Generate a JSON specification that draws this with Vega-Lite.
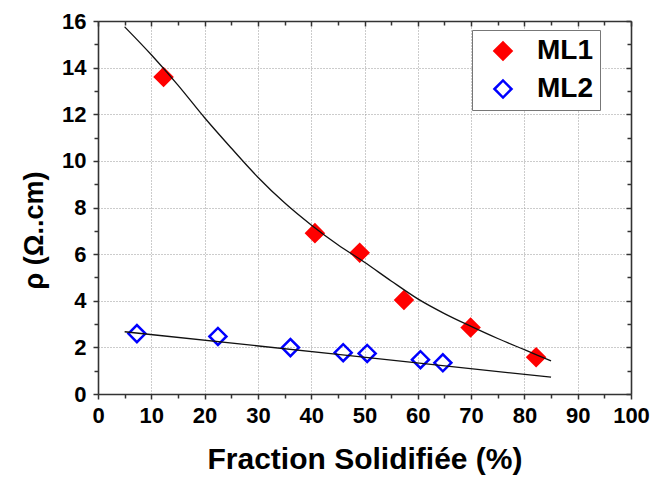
{
  "$schema": "https://vega.github.io/schema/vega-lite/v6.json",
  "width": 533,
  "height": 373,
  "autosize": {"type": "none"},
  "padding": {"left": 98, "top": 21, "right": 21, "bottom": 83},
  "background": "white",
  "config": {
    "view": {"stroke": null},
    "font": "Liberation Sans",
    "axis": {"labelFont": "Liberation Sans", "titleFont": "Liberation Sans"}
  },
  "datasets": {
    "pts": [
      {"frac": 12.3, "rho": 13.6, "serie": "ML1"},
      {"frac": 40.7, "rho": 6.9, "serie": "ML1"},
      {"frac": 49.1, "rho": 6.06, "serie": "ML1"},
      {"frac": 57.4, "rho": 4.03, "serie": "ML1"},
      {"frac": 69.9, "rho": 2.85, "serie": "ML1"},
      {"frac": 82.2, "rho": 1.58, "serie": "ML1"},
      {"frac": 7.3, "rho": 2.59, "serie": "ML2"},
      {"frac": 22.5, "rho": 2.47, "serie": "ML2"},
      {"frac": 36.1, "rho": 1.99, "serie": "ML2"},
      {"frac": 46.0, "rho": 1.77, "serie": "ML2"},
      {"frac": 50.5, "rho": 1.74, "serie": "ML2"},
      {"frac": 60.5, "rho": 1.47, "serie": "ML2"},
      {"frac": 64.7, "rho": 1.34, "serie": "ML2"}
    ],
    "fit": [
      {"frac": 5, "rho": 15.75, "serie": "ML1"},
      {"frac": 10, "rho": 14.55, "serie": "ML1"},
      {"frac": 15, "rho": 13.25, "serie": "ML1"},
      {"frac": 20, "rho": 11.85, "serie": "ML1"},
      {"frac": 25, "rho": 10.55, "serie": "ML1"},
      {"frac": 30, "rho": 9.3, "serie": "ML1"},
      {"frac": 35, "rho": 8.2, "serie": "ML1"},
      {"frac": 40, "rho": 7.25, "serie": "ML1"},
      {"frac": 45, "rho": 6.4, "serie": "ML1"},
      {"frac": 50, "rho": 5.65, "serie": "ML1"},
      {"frac": 55, "rho": 4.85, "serie": "ML1"},
      {"frac": 60, "rho": 4.08, "serie": "ML1"},
      {"frac": 65, "rho": 3.45, "serie": "ML1"},
      {"frac": 70, "rho": 2.9, "serie": "ML1"},
      {"frac": 75, "rho": 2.38, "serie": "ML1"},
      {"frac": 80, "rho": 1.9, "serie": "ML1"},
      {"frac": 85, "rho": 1.42, "serie": "ML1"},
      {"frac": 5, "rho": 2.67, "serie": "ML2"},
      {"frac": 45, "rho": 1.7, "serie": "ML2"},
      {"frac": 85, "rho": 0.72, "serie": "ML2"}
    ]
  },
  "layer": [
    {
      "data": {"name": "pts"},
      "mark": {"type": "point", "shape": "diamond", "size": 290, "strokeWidth": 2.5, "opacity": 1, "filled": false},
      "encoding": {
        "x": {
          "field": "frac", "type": "quantitative",
          "scale": {"domain": [0, 100], "nice": false},
          "axis": {
            "orient": "bottom",
            "title": "Fraction Solidifiée (%)",
            "titleFontSize": 30, "titleFontWeight": "bold", "titleColor": "black", "titlePadding": 18,
            "values": [0,5,10,15,20,25,30,35,40,45,50,55,60,65,70,75,80,85,90,95,100],
            "labelExpr": "datum.value % 10 === 0 ? datum.label : ''",
            "labelOverlap": false,
            "labelFontSize": 22, "labelFontWeight": "bold", "labelColor": "black", "labelPadding": 6,
            "labelFlush": false,
            "domainColor": "#333", "domainWidth": 1.6,
            "tickColor": "#333", "tickWidth": 1.5,
            "tickSize": {"condition": {"test": "datum.value % 10 !== 0", "value": 4}, "value": 5},
            "grid": true, "gridColor": "#999", "gridDash": [1, 2], "gridWidth": 1,
            "gridOpacity": {"condition": {"test": "datum.value % 10 !== 0 || datum.value === 0 || datum.value === 100", "value": 0}, "value": 1}
          }
        },
        "y": {
          "field": "rho", "type": "quantitative",
          "scale": {"domain": [0, 16], "nice": false},
          "axis": {
            "orient": "left",
            "title": "ρ (Ω..cm)",
            "titleFontSize": 27, "titleFontWeight": "bold", "titleColor": "black", "titlePadding": 13,
            "titleY": 209, "titleAnchor": null,
            "values": [0,1,2,3,4,5,6,7,8,9,10,11,12,13,14,15,16],
            "labelExpr": "datum.value % 2 === 0 ? datum.label : ''",
            "labelOverlap": false,
            "labelFontSize": 22, "labelFontWeight": "bold", "labelColor": "black", "labelPadding": 7,
            "labelFlush": false,
            "domainColor": "#333", "domainWidth": 1.6,
            "tickColor": "#333", "tickWidth": 1.5,
            "tickSize": {"condition": {"test": "datum.value % 2 !== 0", "value": 4}, "value": 5},
            "grid": true, "gridColor": "#999", "gridDash": [1, 2], "gridWidth": 1,
            "gridOpacity": {"condition": {"test": "datum.value % 2 !== 0 || datum.value === 0 || datum.value === 16", "value": 0}, "value": 1}
          }
        },
        "fill": {
          "field": "serie", "type": "nominal",
          "scale": {"domain": ["ML1", "ML2"], "range": ["#ff0000", "transparent"]},
          "legend": {
            "orient": "none", "legendX": 374, "legendY": 9, "title": null,
            "symbolType": "diamond", "symbolSize": 290, "symbolStrokeWidth": 2.5,
            "labelFontSize": 28, "labelFontWeight": "bold", "labelColor": "black",
            "labelFont": "Liberation Sans",
            "padding": 7, "rowPadding": 10, "symbolOffset": 10, "labelOffset": 20,
            "strokeColor": "#777", "fillColor": "white"
          }
        },
        "stroke": {
          "field": "serie", "type": "nominal",
          "scale": {"domain": ["ML1", "ML2"], "range": ["#ff0000", "#0000ff"]},
          "legend": {
            "orient": "none", "legendX": 374, "legendY": 9, "title": null,
            "symbolType": "diamond", "symbolSize": 290, "symbolStrokeWidth": 2.5,
            "labelFontSize": 28, "labelFontWeight": "bold", "labelColor": "black",
            "labelFont": "Liberation Sans",
            "padding": 7, "rowPadding": 10, "symbolOffset": 10, "labelOffset": 20,
            "strokeColor": "#777", "fillColor": "white"
          }
        }
      }
    },
    {
      "data": {"name": "fit"},
      "mark": {"type": "line", "color": "#111", "strokeWidth": 1.3, "interpolate": "monotone"},
      "encoding": {
        "x": {
          "field": "frac", "type": "quantitative",
          "axis": {
            "orient": "top", "title": null, "labels": false, "grid": false,
            "values": [0,5,10,15,20,25,30,35,40,45,50,55,60,65,70,75,80,85,90,95,100],
            "domainColor": "#333", "domainWidth": 1.6,
            "tickColor": "#333", "tickWidth": 1.5,
            "tickSize": {"condition": {"test": "datum.value % 10 !== 0", "value": -4}, "value": -5}
          }
        },
        "y": {
          "field": "rho", "type": "quantitative",
          "axis": {
            "orient": "right", "title": null, "labels": false, "grid": false,
            "values": [0,1,2,3,4,5,6,7,8,9,10,11,12,13,14,15,16],
            "domainColor": "#333", "domainWidth": 1.6,
            "tickColor": "#333", "tickWidth": 1.5,
            "tickSize": {"condition": {"test": "datum.value % 2 !== 0", "value": -4}, "value": -5}
          }
        },
        "detail": {"field": "serie", "type": "nominal"}
      }
    }
  ],
  "resolve": {"axis": {"x": "independent", "y": "independent"}}
}
